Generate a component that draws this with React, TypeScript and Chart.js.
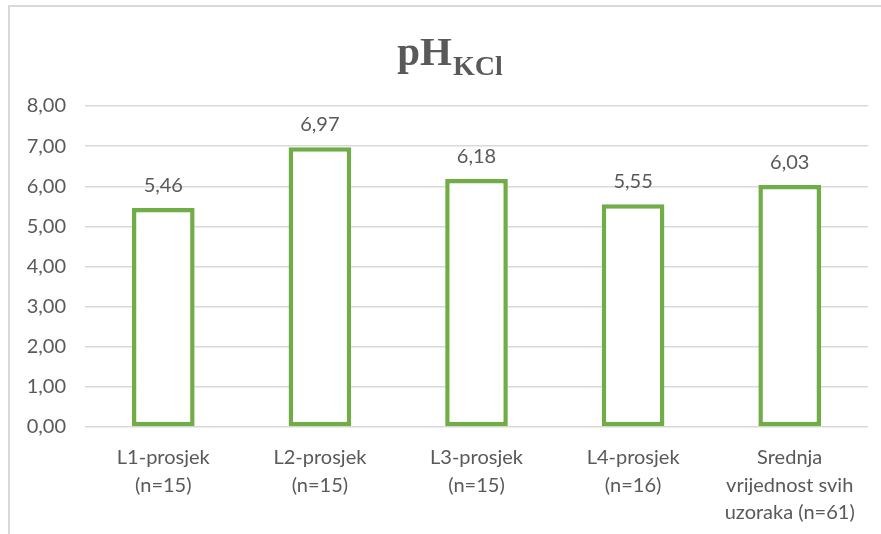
import React, { useEffect, useRef } from 'react';
import { Chart, registerables } from 'chart.js';

Chart.register(...registerables);

const categories: string[][] = [
  ['L1-prosjek', '(n=15)'],
  ['L2-prosjek', '(n=15)'],
  ['L3-prosjek', '(n=15)'],
  ['L4-prosjek', '(n=16)'],
  ['Srednja', 'vrijednost svih', 'uzoraka (n=61)'],
];
const values: number[] = [5.46, 6.97, 6.18, 5.55, 6.03];
const yMin = 0;
const yMax = 8;
const yStep = 1;
const titleMain = 'pH';
const titleSub = 'KCl';

const TEXT = '#595959';
const GREEN = '#70AD47';
const GRID = '#d9d9d9';
const FONT = 'Lato, "Open Sans", sans-serif';

const fmt = (v: number) => v.toFixed(2).replace('.', ',');

const labelsPlugin = {
  id: 'valueLabels',
  afterDatasetsDraw(chart: any) {
    const ctx = chart.ctx;
    const meta = chart.getDatasetMeta(0);
    ctx.save();
    ctx.font = `20px ${FONT}`;
    ctx.fillStyle = TEXT;
    ctx.textAlign = 'center';
    ctx.textBaseline = 'alphabetic';
    meta.data.forEach((bar: any, i: number) => {
      ctx.fillText(fmt(values[i]), bar.x, bar.y - 16);
    });
    ctx.restore();
  },
};

const titlePlugin = {
  id: 'subTitle',
  afterDraw(chart: any) {
    const ctx = chart.ctx;
    ctx.save();
    ctx.fillStyle = TEXT;
    ctx.textAlign = 'left';
    ctx.textBaseline = 'alphabetic';
    const mainFont = 'bold 41px "Liberation Serif", "DejaVu Serif", serif';
    const subFont = 'bold 28px "Liberation Serif", "DejaVu Serif", serif';
    ctx.font = mainFont;
    const w1 = ctx.measureText(titleMain).width;
    ctx.font = subFont;
    const w2 = ctx.measureText(titleSub).width;
    const cx = chart.width / 2 + 9;
    const x0 = cx - (w1 + w2) / 2;
    ctx.font = mainFont;
    ctx.fillText(titleMain, x0, 65);
    ctx.font = subFont;
    ctx.fillText(titleSub, x0 + w1 + 1, 75);
    ctx.restore();
  },
};

export default function App() {
  const ref = useRef<HTMLCanvasElement | null>(null);

  useEffect(() => {
    if (!ref.current) return;
    const chart = new Chart(ref.current, {
      type: 'bar',
      data: {
        labels: categories,
        datasets: [
          {
            data: values,
            backgroundColor: '#ffffff',
            borderColor: GREEN,
            borderWidth: 4.5,
            borderSkipped: false,
            categoryPercentage: 1,
            barPercentage: 0.4,
          },
        ],
      },
      options: {
        responsive: false,
        animation: false,
        devicePixelRatio: 1,
        layout: { padding: { left: 20, right: 13, top: 106, bottom: 0 } },
        plugins: {
          legend: { display: false },
          title: { display: false },
          tooltip: { enabled: false },
        },
        scales: {
          x: {
            grid: { display: false, drawTicks: false },
            border: { display: false },
            ticks: {
              color: TEXT,
              font: { family: FONT, size: 20, lineHeight: 1.37 },
              padding: 17,
              maxRotation: 0,
              autoSkip: false,
            },
            afterFit: (scale: any) => {
              scale.height = 107;
            },
          },
          y: {
            min: yMin,
            max: yMax,
            grid: { color: GRID, lineWidth: 1.5, drawTicks: false },
            border: { display: false },
            ticks: {
              stepSize: yStep,
              color: TEXT,
              font: { family: FONT, size: 20 },
              padding: 19,
              callback: (v: any) => fmt(Number(v)),
            },
            afterFit: (scale: any) => {
              scale.width = 65;
            },
          },
        },
      },
      plugins: [labelsPlugin, titlePlugin],
    });
    return () => chart.destroy();
  }, []);

  return (
    <div
      style={{
        position: 'absolute',
        left: 0,
        top: 0,
        width: 881,
        height: 534,
        overflow: 'hidden',
        background: '#ffffff',
      }}
    >
      <div
        style={{
          position: 'absolute',
          left: 8,
          top: 5,
          width: 1000,
          height: 1000,
          borderLeft: `2px solid ${GRID}`,
          borderTop: `2px solid ${GRID}`,
        }}
      />
      <canvas
        ref={ref}
        width={881}
        height={534}
        style={{ position: 'absolute', left: 0, top: 0, width: 881, height: 534 }}
      />
    </div>
  );
}
